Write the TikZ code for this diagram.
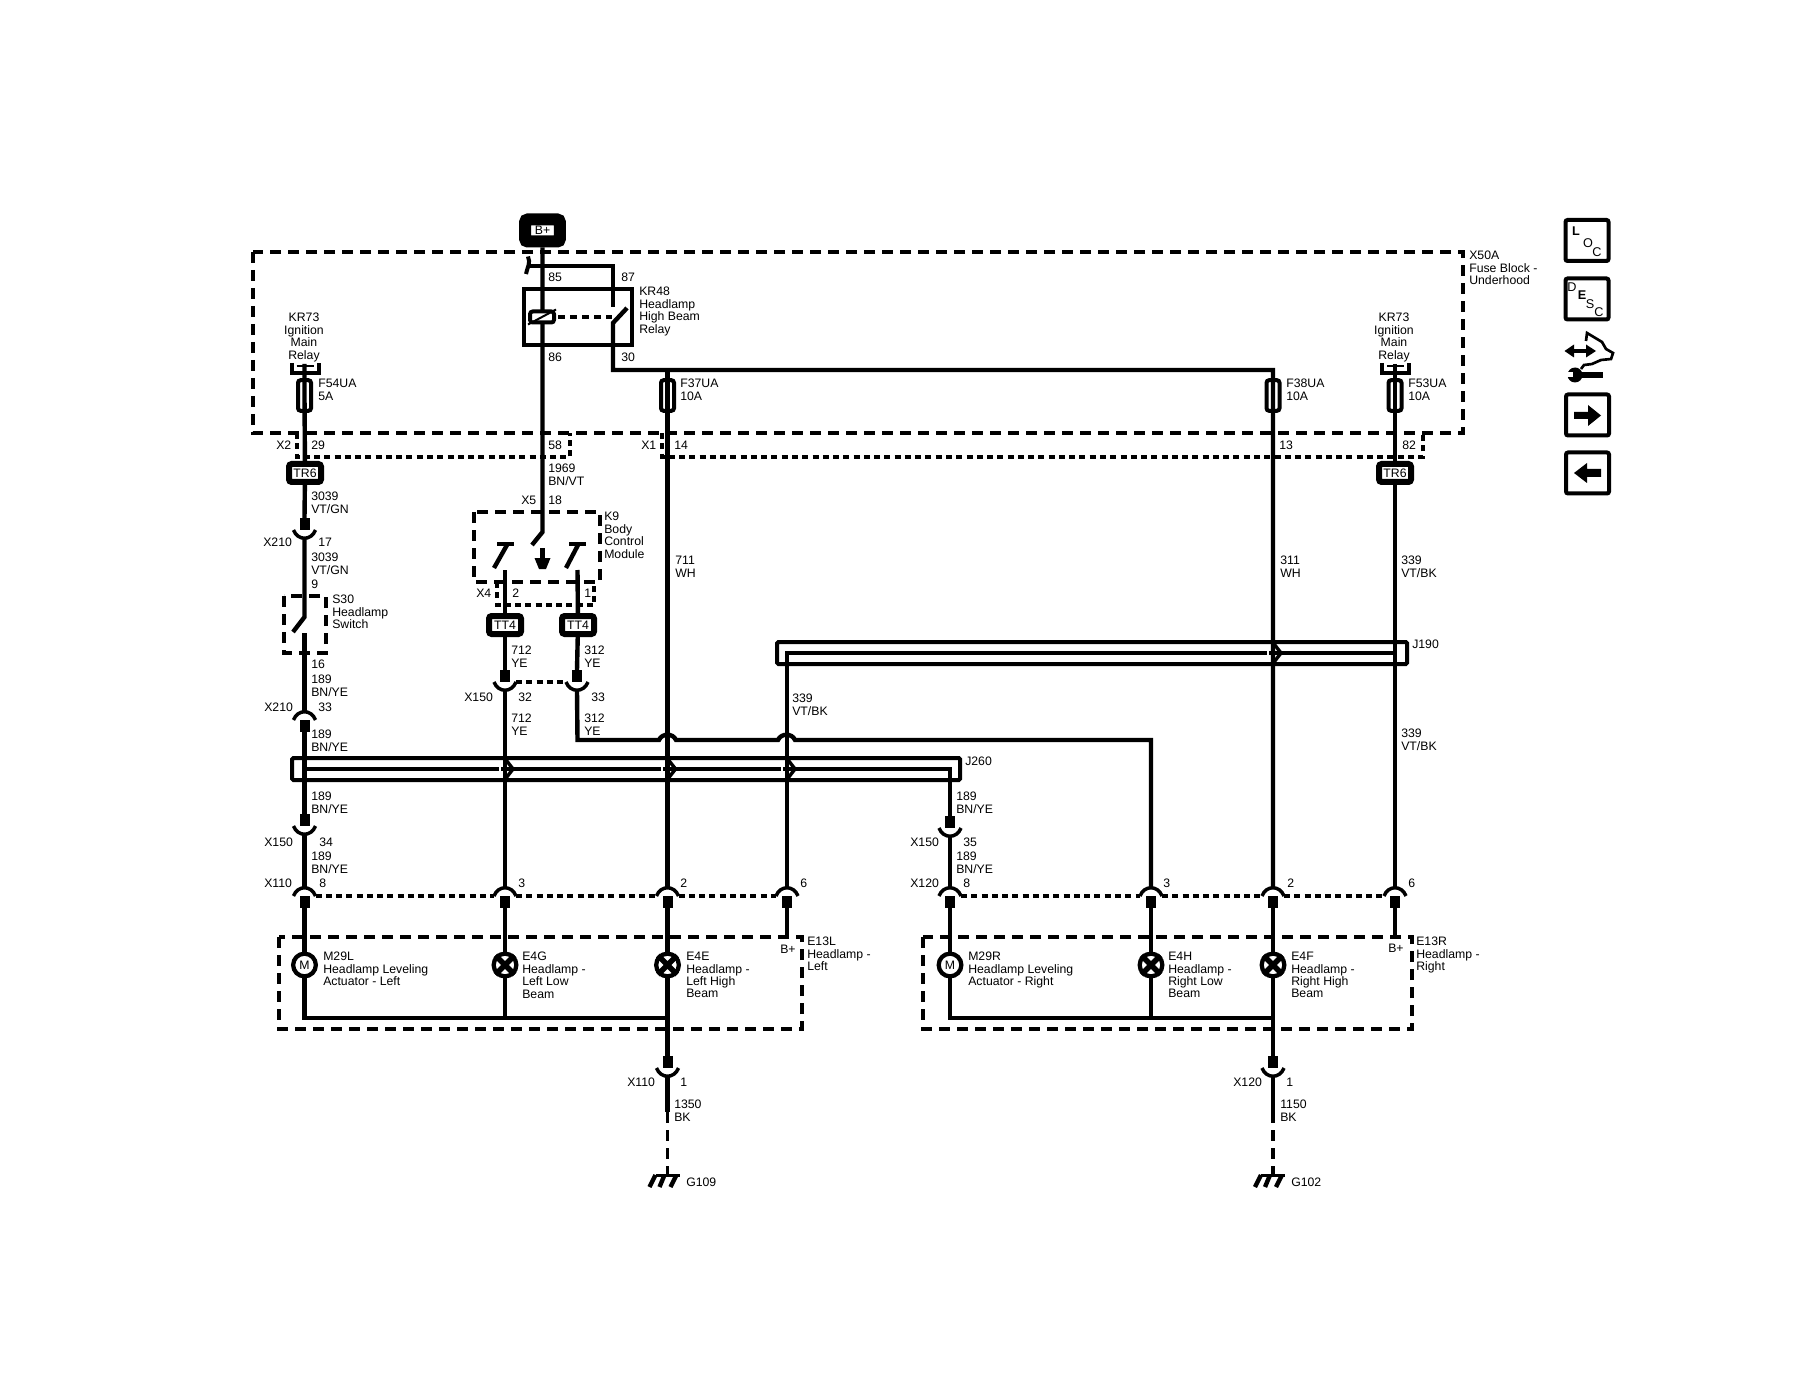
\documentclass[tikz,border=0pt]{standalone}
\usepackage{fontspec}
\setmainfont{Liberation Sans}
\usetikzlibrary{shapes.misc}

\tikzset{
  lbl/.style={anchor=north west,inner sep=0pt,align=left,font=\fontsize{9.2}{9.3}\selectfont},
  lblmid/.style={anchor=north,inner sep=0pt,align=center,font=\fontsize{9.2}{9.3}\selectfont},
  wire/.style={line width=3.3pt},
  thinwire/.style={line width=2.6pt},
  boxline/.style={line width=3pt},
  longdash/.style={line width=2.3pt,dash pattern=on 8.5pt off 5pt},
  shortdash/.style={line width=2.4pt,dash pattern=on 4.5pt off 3.2pt},
  tagbox/.style={draw,rectangle,rounded corners=2pt,line width=4.5pt,fill=white,inner sep=0pt,
    minimum width=24pt,minimum height=13.5pt,font=\fontsize{9.2}{9.2}\selectfont},
  fusebox/.style={draw,rectangle,rounded corners=2pt,line width=3pt,inner sep=0pt,
    minimum width=9.75pt,minimum height=23pt},
  lampring/.style={draw,circle,line width=3.2pt,fill=white,inner sep=0pt,minimum size=17pt},
  navbtn/.style={draw,rectangle,rounded corners=1.5pt,line width=3pt,inner sep=0pt,
    minimum width=32.25pt,minimum height=30.75pt},
  navchar/.style={inner sep=0pt,font=\fontsize{9.5}{9.5}\selectfont}
}

% plug and socket: name, x, rim y, +1 opens up / -1 opens down
\newcommand{\connplug}[4]{%
  \coordinate (#1) at (#2,#3);
  \coordinate (#1 pin) at (#2,{#3-#4*12});
  \coordinate (#1 cup) at (#2,{#3+#4*9});
  \coordinate (#1 w) at (#2-11,#3);
  \coordinate (#1 e) at (#2+11,#3);
  \fill (#2-5,#3) rectangle (#2+5,{#3-#4*12});
  \draw[thinwire] (#1 w) .. controls (#2-7,{#3+#4*11}) and (#2+7,{#3+#4*11}) .. (#1 e);
}
% lamp: name, x, y
\newcommand{\lampsym}[3]{%
  \node (#1) [lampring] at (#2,#3) {};
  \draw[line width=4.2pt] (#1.north west) -- (#1.south east) (#1.north east) -- (#1.south west);
}
% relay contact above a fuse
\newcommand{\relaytap}[2]{%
  \coordinate (#1) at (#2,364);
  \draw[boxline] (#2-13,363) -- (#2-13,373) -- (#2+14,373) -- (#2+14,363);
  \draw[line width=2pt] (#2-8,366) -- (#2+9,366);
}
% wire through a shielded line
\newcommand{\chevron}[2]{%
  \fill[white] (#1-6.5,#2-3) rectangle (#1-4.5,#2+3);
  \draw[line width=2.6pt] (#1+1,#2-9) -- (#1+8,#2) -- (#1+1,#2+9);
}
% ground with three legs
\newcommand{\groundsym}[2]{%
  \coordinate (#1) at (#2,1175);
  \draw[line width=2.4pt] (#2-12,1175.5) -- (#2+12,1175.5);
  \draw[wire] (#2-12,1175) -- (#2-18,1187) (#2-3,1175) -- (#2-8,1187) (#2+9,1175) -- (#2+3,1187);
}

\begin{document}
\begin{tikzpicture}[x=0.75pt,y=0.75pt,yscale=-1,xscale=1]
\useasboundingbox (0,0) rectangle (1800,1376);

%Dashed boxes
\draw[longdash] (253,252) rectangle (1463,433);
\draw[longdash] (279,937) rectangle (802,1029);
\draw[longdash] (923,937) rectangle (1412,1029);
\draw[longdash] (284,596) rectangle (326,653);
\draw[longdash] (474,512) rectangle (600,582);
\draw[shortdash] (297,433) -- (297,457) -- (570,457) -- (570,433);
\draw[shortdash] (662,433) -- (662,457) -- (1423,457) -- (1423,433);
\draw[shortdash] (497,582) -- (497,605) -- (594,605) -- (594,582);

%Shield boxes
\draw[boxline,rounded corners=1pt] (777,642) rectangle (1407,664);
\draw[boxline,rounded corners=1pt] (292,758) rectangle (960,780);

%Relay box
\node (kr48) [draw,rectangle,line width=3pt,inner sep=0pt,minimum width=81pt,minimum height=42pt] at (578,317.5) {};

%Connectors
\connplug{xTwoTenA}{304.5}{530}{1}
\connplug{xTwoTenB}{304.5}{720}{-1}
\connplug{xOneFiftyA}{304.5}{826}{1}
\connplug{xOneFiftyB}{505}{682}{1}
\connplug{xOneFiftyC}{577}{682}{1}
\connplug{xOneFiftyD}{950}{828}{1}
\connplug{xOneTenA}{304.5}{896}{-1}
\connplug{xOneTenB}{505}{896}{-1}
\connplug{xOneTenC}{667.5}{896}{-1}
\connplug{xOneTenD}{787}{896}{-1}
\connplug{xOneTenE}{667.5}{1068}{1}
\connplug{xOneTwentyA}{950}{896}{-1}
\connplug{xOneTwentyB}{1151}{896}{-1}
\connplug{xOneTwentyC}{1273}{896}{-1}
\connplug{xOneTwentyD}{1395}{896}{-1}
\connplug{xOneTwentyE}{1273}{1068}{1}
\draw[shortdash] (xOneFiftyB e) -- (xOneFiftyC w);
\draw[shortdash] (xOneTenA e) -- (xOneTenB w);
\draw[shortdash] (xOneTenB e) -- (xOneTenC w);
\draw[shortdash] (xOneTenC e) -- (xOneTenD w);
\draw[shortdash] (xOneTwentyA e) -- (xOneTwentyB w);
\draw[shortdash] (xOneTwentyB e) -- (xOneTwentyC w);
\draw[shortdash] (xOneTwentyC e) -- (xOneTwentyD w);

%Tags and fuses
\node (bplus) [tagbox,line width=9pt,minimum width=26pt,minimum height=16.5pt] at (542.5,230.5) {B+};
\node (trSixL) [tagbox] at (305,473) {TR6};
\node (trSixR) [tagbox] at (1395,473) {TR6};
\node (ttFourL) [tagbox] at (505,625) {TT4};
\node (ttFourR) [tagbox] at (578,625) {TT4};
\node (fuseFiftyFour) [fusebox] at (304.5,395.5) {};
\node (fuseThirtySeven) [fusebox] at (667.5,395.5) {};
\node (fuseThirtyEight) [fusebox] at (1273,395.5) {};
\node (fuseFiftyThree) [fusebox] at (1395,395.5) {};
\relaytap{tapL}{304.5}
\relaytap{tapR}{1395}

%Wires, top
\coordinate (k9pivot) at (542.5,532);
\coordinate (k9blade) at (532,545);
\draw[wire] (bplus) -- (k9pivot) -- (k9blade);
\coordinate (feedW) at (527,266);
\coordinate (feedE) at (613,266);
\coordinate (contactTop) at (613,307);
\draw[wire] (feedW) -- (feedE) -- (contactTop);
\draw[line width=3pt] (528,256.5) .. controls (531,263) and (527,268) .. (526,274);
\coordinate (bladeTip) at (627,308);
\coordinate (bladeRoot) at (613,323);
\coordinate (busHigh) at (613,370);
\coordinate (teeThirtySeven) at (667.5,370);
\coordinate (teeThirtyEight) at (1273,370);
\draw[wire] (bladeTip) -- (bladeRoot) -- (busHigh) -- (teeThirtyEight) -- (fuseThirtyEight.center) -- (xOneTwentyC cup);
\draw[wire] (teeThirtySeven) -- (fuseThirtySeven.center) -- (xOneTenC cup);
\draw[wire] (tapL) -- (fuseFiftyFour.center) -- (trSixL);
\draw[wire] (tapR) -- (fuseFiftyThree.center) -- (trSixR);
\draw[wire] (trSixR) -- (xOneTwentyD cup);

%Coil
\node (coil) [draw,fill=white,rectangle,rounded corners=2pt,line width=3pt,inner sep=0pt,minimum width=18pt,minimum height=8.25pt] at (542,317) {};
\draw[line width=1.5pt] (coil.south west) -- (coil.north east);
\coordinate (coilLink) at (558,317);
\coordinate (bladeLink) at (612,317);
\draw[longdash,dash pattern=on 5.5pt off 3.5pt] (coilLink) -- (bladeLink);

%Switch S30
\coordinate (sThirtyPivot) at (304.5,617);
\coordinate (sThirtyBlade) at (293,632);
\coordinate (sThirtyLow) at (304.5,633);
\draw[wire] (trSixL) -- (xTwoTenA pin);
\draw[wire] (xTwoTenA cup) -- (sThirtyPivot) -- (sThirtyBlade);
\draw[wire] (sThirtyLow) -- (xTwoTenB cup);

%Switches K9
\coordinate (k9barLa) at (497,544);
\coordinate (k9barLb) at (514,544);
\coordinate (k9bladeLa) at (507,545);
\coordinate (k9bladeLb) at (494,568);
\coordinate (k9barRa) at (569,544);
\coordinate (k9barRb) at (586,544);
\coordinate (k9bladeRa) at (578,545);
\coordinate (k9bladeRb) at (566,568);
\coordinate (k9wireL) at (505,570);
\coordinate (k9wireR) at (577.5,570);
\draw[wire] (k9barLa) -- (k9barLb);
\draw[wire] (k9bladeLa) -- (k9bladeLb);
\draw[wire] (k9barRa) -- (k9barRb);
\draw[wire] (k9bladeRa) -- (k9bladeRb);
\draw[wire] (k9wireL) -- (ttFourL);
\draw[wire] (k9wireR) -- (ttFourR);
\draw[wire] (ttFourL) -- (xOneFiftyB pin);
\draw[wire] (ttFourR) -- (xOneFiftyC pin);
\fill (540,548) rectangle (545,560);
\fill (534.5,558) -- (550.5,558) -- (546,569) -- (539,569) -- cycle;

%Shield inner lines
\coordinate (jTwoSixtyL) at (304.5,769);
\coordinate (jTwoSixtyR) at (950,769);
\coordinate (jOneNinetyL) at (787,653);
\coordinate (jOneNinetyR) at (1395,653);
\draw[wire] (jTwoSixtyL) -- (jTwoSixtyR) -- (xOneFiftyD pin);
\draw[wire] (jOneNinetyR) -- (jOneNinetyL) -- (xOneTenD cup);
\draw[wire] (xTwoTenB pin) -- (xOneFiftyA pin);
\draw[wire] (xOneFiftyA cup) -- (xOneTenA cup);
\draw[wire] (xOneFiftyB cup) -- (xOneTenB cup);
\draw[wire] (xOneFiftyD cup) -- (xOneTwentyA cup);
\chevron{505}{769}
\chevron{667.5}{769}
\chevron{787}{769}
\chevron{1273}{653}

%Curve Lines, hops
\coordinate (hopStart) at (577.5,740);
\coordinate (hopEnd) at (1151,740);
\draw[wire] (xOneFiftyC cup) -- (hopStart) -- (659,740) .. controls (662,733) and (673,733) .. (676,740) -- (778,740) .. controls (781,733) and (792,733) .. (795,740) -- (hopEnd) -- (xOneTwentyB cup);

%Loads, left
\node (mTwentyNineL) [lampring] at (304.5,965) {\fontsize{9.2}{9.2}\selectfont M};
\lampsym{eFourG}{505}{965}
\lampsym{eFourE}{667.5}{965}
\coordinate (bPlusL) at (787,937);
\coordinate (busL) at (667.5,1018);
\draw[wire] (xOneTenA pin) -- (mTwentyNineL);
\draw[wire] (xOneTenB pin) -- (eFourG);
\draw[wire] (xOneTenC pin) -- (eFourE);
\draw[wire] (xOneTenD pin) -- (bPlusL);
\draw[wire] (mTwentyNineL) |- (busL);
\draw[wire] (eFourG) -- (eFourG |- busL);
\draw[wire] (eFourE) -- (xOneTenE pin);

%Loads, right
\node (mTwentyNineR) [lampring] at (950,965) {\fontsize{9.2}{9.2}\selectfont M};
\lampsym{eFourH}{1151}{965}
\lampsym{eFourF}{1273}{965}
\coordinate (bPlusR) at (1395,937);
\coordinate (busR) at (1273,1018);
\draw[wire] (xOneTwentyA pin) -- (mTwentyNineR);
\draw[wire] (xOneTwentyB pin) -- (eFourH);
\draw[wire] (xOneTwentyC pin) -- (eFourF);
\draw[wire] (xOneTwentyD pin) -- (bPlusR);
\draw[wire] (mTwentyNineR) |- (busR);
\draw[wire] (eFourH) -- (eFourH |- busR);
\draw[wire] (eFourF) -- (xOneTwentyE pin);

%Ground
\groundsym{gOneNine}{667.5}
\groundsym{gOneTwo}{1273}
\coordinate (gndWireL) at (667.5,1112);
\coordinate (gndWireR) at (1273,1112);
\draw[wire] (xOneTenE cup) -- (gndWireL);
\draw[wire] (xOneTwentyE cup) -- (gndWireR);
\draw[longdash] (gndWireL) -- (gOneNine);
\draw[longdash] (gndWireR) -- (gOneTwo);

%Nav buttons
\node (btnLoc) [navbtn] at (1587,240.5) {};
\node (btnDesc) [navbtn] at (1587,299) {};
\node (btnNext) [navbtn] at (1587.5,415) {};
\node (btnPrev) [navbtn] at (1587.5,473) {};
\node (locL) [navchar] at (1576,231) {\textbf{L}};
\node (locO) [navchar] at (1588,243) {O};
\node (locC) [navchar] at (1597,252) {C};
\node (descD) [navchar] at (1572,287) {D};
\node (descE) [navchar] at (1582,295) {\textbf{E}};
\node (descS) [navchar] at (1590,304) {S};
\node (descC) [navchar] at (1599,312) {C};
\fill (1574,412) -- (1588,412) -- (1588,405) -- (1601,415.5) -- (1588,426) -- (1588,419) -- (1574,419) -- cycle;
\fill (1574,473) -- (1587,463) -- (1587,469) -- (1601,469) -- (1601,477) -- (1587,477) -- (1587,483) -- cycle;

%Service icon
\draw[line width=3.5pt] (1570,351) -- (1591,351);
\fill (1564.5,351) -- (1574,344.5) -- (1574,357.5) -- cycle;
\fill (1596,351) -- (1586,344.5) -- (1586,357.5) -- cycle;
\draw[line width=2pt] (1586,341) -- (1587,333) -- (1602,342) -- (1606,349) -- (1613,353) -- (1611,359) -- (1601,360) -- (1592,364) -- (1584,365) -- (1581,369);
\draw[line width=5pt] (1574,375) -- (1603,375);
\fill (1575,375) circle [radius=7.5];
\fill[white] (1566,372.5) rectangle (1573,377.5);

% Text Node
\node (lbEightyFive) [lbl] at (548,273) {85};
\node (lbEightySeven) [lbl] at (621,273) {87};
\node (lbKrFortyEight) [lbl] at (639,287) {KR48\\Headlamp\\High Beam\\Relay};
\node (lbEightySix) [lbl] at (548,353) {86};
\node (lbThirty) [lbl] at (621,353) {30};
\node (lbKrTapL) [lblmid] at (304,313) {KR73\\Ignition\\Main\\Relay};
\node (lbKrTapR) [lblmid] at (1394,313) {KR73\\Ignition\\Main\\Relay};
\node (lbFiftyFour) [lbl] at (318,379) {F54UA\\5A};
\node (lbThirtySeven) [lbl] at (680,379) {F37UA\\10A};
\node (lbThirtyEight) [lbl] at (1286,379) {F38UA\\10A};
\node (lbFiftyThree) [lbl] at (1408,379) {F53UA\\10A};
\node (lbXFiftyA) [lbl] at (1469,251) {X50A\\Fuse Block -\\Underhood};
\node (lbXTwo) [lbl] at (276,441) {X2};
\node (lbTwentyNine) [lbl] at (311,441) {29};
\node (lbFiftyEight) [lbl] at (548,441) {58};
\node (lbXOne) [lbl] at (641,441) {X1};
\node (lbFourteen) [lbl] at (674,441) {14};
\node (lbThirteen) [lbl] at (1279,441) {13};
\node (lbEightyTwo) [lbl] at (1402,441) {82};
\node (lbNineteenSixtyNine) [lbl] at (548,464) {1969\\BN/VT};
\node (lbWireThreeA) [lbl] at (311,492) {3039\\VT/GN};
\node (lbXFive) [lbl] at (521,496) {X5};
\node (lbEighteen) [lbl] at (548,496) {18};
\node (lbKNine) [lbl] at (604,512) {K9\\Body\\Control\\Module};
\node (lbSevenEleven) [lbl] at (675,556) {711\\WH};
\node (lbThreeEleven) [lbl] at (1280,556) {311\\WH};
\node (lbThreeThirtyNineA) [lbl] at (1401,556) {339\\VT/BK};
\node (lbXTwoTenA) [lbl] at (263,538) {X210};
\node (lbSeventeen) [lbl] at (318,538) {17};
\node (lbWireThreeB) [lbl] at (311,553) {3039\\VT/GN};
\node (lbNine) [lbl] at (311,580) {9};
\node (lbSThirty) [lbl] at (332,595) {S30\\Headlamp\\Switch};
\node (lbXFour) [lbl] at (476,589) {X4};
\node (lbPinTwo) [lbl] at (512,589) {2};
\node (lbPinOne) [lbl] at (584,589) {1};
\node (lbJOneNinety) [lbl] at (1412,640) {J190};
\node (lbSevenTwelveA) [lbl] at (511,646) {712\\YE};
\node (lbThreeTwelveA) [lbl] at (584,646) {312\\YE};
\node (lbSixteen) [lbl] at (311,660) {16};
\node (lbOneEightyNineA) [lbl] at (311,675) {189\\BN/YE};
\node (lbXOneFiftyA) [lbl] at (464,693) {X150};
\node (lbThirtyTwo) [lbl] at (518,693) {32};
\node (lbThirtyThreeA) [lbl] at (591,693) {33};
\node (lbThreeThirtyNineB) [lbl] at (792,694) {339\\VT/BK};
\node (lbXTwoTenB) [lbl] at (264,703) {X210};
\node (lbThirtyThreeB) [lbl] at (318,703) {33};
\node (lbSevenTwelveB) [lbl] at (511,714) {712\\YE};
\node (lbThreeTwelveB) [lbl] at (584,714) {312\\YE};
\node (lbThreeThirtyNineC) [lbl] at (1401,729) {339\\VT/BK};
\node (lbOneEightyNineB) [lbl] at (311,730) {189\\BN/YE};
\node (lbJTwoSixty) [lbl] at (965,757) {J260};
\node (lbOneEightyNineC) [lbl] at (311,792) {189\\BN/YE};
\node (lbOneEightyNineD) [lbl] at (956,792) {189\\BN/YE};
\node (lbXOneFiftyB) [lbl] at (264,838) {X150};
\node (lbThirtyFour) [lbl] at (319,838) {34};
\node (lbXOneFiftyC) [lbl] at (910,838) {X150};
\node (lbThirtyFive) [lbl] at (963,838) {35};
\node (lbOneEightyNineE) [lbl] at (311,852) {189\\BN/YE};
\node (lbOneEightyNineF) [lbl] at (956,852) {189\\BN/YE};
\node (lbXOneTenA) [lbl] at (264,879) {X110};
\node (lbEightA) [lbl] at (319,879) {8};
\node (lbThreeA) [lbl] at (518,879) {3};
\node (lbTwoA) [lbl] at (680,879) {2};
\node (lbSixA) [lbl] at (800,879) {6};
\node (lbXOneTwentyA) [lbl] at (910,879) {X120};
\node (lbEightB) [lbl] at (963,879) {8};
\node (lbThreeB) [lbl] at (1163,879) {3};
\node (lbTwoB) [lbl] at (1287,879) {2};
\node (lbSixB) [lbl] at (1408,879) {6};
\node (lbBPlusL) [lbl] at (780,945) {B+};
\node (lbBPlusR) [lbl] at (1388,944) {B+};
\node (lbEThirteenL) [lbl] at (807,937) {E13L\\Headlamp -\\Left};
\node (lbEThirteenR) [lbl] at (1416,937) {E13R\\Headlamp -\\Right};
\node (lbMTwentyNineL) [lbl] at (323,952) {M29L\\Headlamp Leveling\\Actuator - Left};
\node (lbEFourG) [lbl] at (522,952) {E4G\\Headlamp -\\Left Low\\Beam};
\node (lbEFourE) [lbl] at (686,952) {E4E\\Headlamp -\\Left High\\Beam};
\node (lbMTwentyNineR) [lbl] at (968,952) {M29R\\Headlamp Leveling\\Actuator - Right};
\node (lbEFourH) [lbl] at (1168,952) {E4H\\Headlamp -\\Right Low\\Beam};
\node (lbEFourF) [lbl] at (1291,952) {E4F\\Headlamp -\\Right High\\Beam};
\node (lbXOneTenB) [lbl] at (627,1078) {X110};
\node (lbPinOneB) [lbl] at (680,1078) {1};
\node (lbXOneTwentyB) [lbl] at (1233,1078) {X120};
\node (lbPinOneC) [lbl] at (1286,1078) {1};
\node (lbThirteenFifty) [lbl] at (674,1100) {1350\\BK};
\node (lbElevenFifty) [lbl] at (1280,1100) {1150\\BK};
\node (lbGOneNine) [lbl] at (686,1178) {G109};
\node (lbGOneTwo) [lbl] at (1291,1178) {G102};

\end{tikzpicture}
\end{document}
